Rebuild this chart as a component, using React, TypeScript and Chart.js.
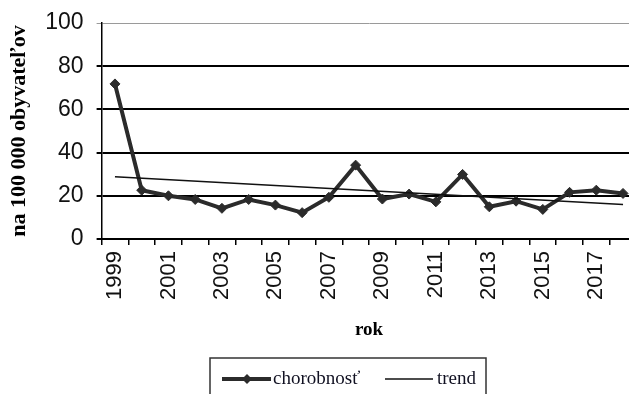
import React, { useEffect, useRef } from "react";
import { Chart, registerables } from "chart.js";

Chart.register(...registerables);

const years = [
  "1999", "2000", "2001", "2002", "2003", "2004", "2005", "2006", "2007", "2008",
  "2009", "2010", "2011", "2012", "2013", "2014", "2015", "2016", "2017", "2018",
];
const chorobnost = [
  71.8, 22.6, 20.0, 18.3, 14.2, 18.3, 15.7, 12.2, 19.3, 34.2,
  18.5, 20.8, 17.2, 29.9, 14.9, 17.5, 13.7, 21.6, 22.6, 21.1,
];
// trend line: read start (1999) and end (2018) values, gaps spanned
const trend = [
  28.8, null, null, null, null, null, null, null, null, null,
  null, null, null, null, null, null, null, null, null, 16.0,
];
const yMin = 0;
const yMax = 100;
const yStep = 20;
const seriesLabel = "chorobnosť";
const trendLabel = "trend";
const xTitle = "rok";
const yTitle = "na 100 000 obyvateľov";

const LINE_COLOR = "#2b2b2b";

const boxLegend = {
  id: "boxLegend",
  afterDraw(chart: any) {
    const ctx = chart.ctx as CanvasRenderingContext2D;
    const left = 210;
    const top = chart.height - 36;
    const width = 276;
    const height = 44;
    const midY = top + 21;
    ctx.save();
    ctx.strokeStyle = "#333";
    ctx.lineWidth = 1.5;
    ctx.strokeRect(left, top, width, height);
    // series marker
    ctx.strokeStyle = LINE_COLOR;
    ctx.lineWidth = 4;
    ctx.beginPath();
    ctx.moveTo(left + 12, midY);
    ctx.lineTo(left + 61, midY);
    ctx.stroke();
    ctx.fillStyle = LINE_COLOR;
    ctx.beginPath();
    const cx = left + 37;
    ctx.moveTo(cx, midY - 5);
    ctx.lineTo(cx + 5, midY);
    ctx.lineTo(cx, midY + 5);
    ctx.lineTo(cx - 5, midY);
    ctx.closePath();
    ctx.fill();
    ctx.font = "19px 'Liberation Serif', 'Times New Roman', serif";
    ctx.fillStyle = "#111122";
    ctx.textBaseline = "middle";
    ctx.textAlign = "left";
    ctx.fillText(seriesLabel, left + 63, midY);
    // trend marker
    ctx.strokeStyle = "#111";
    ctx.lineWidth = 1.3;
    ctx.beginPath();
    ctx.moveTo(left + 175, midY);
    ctx.lineTo(left + 223, midY);
    ctx.stroke();
    ctx.fillText(trendLabel, left + 227, midY);
    ctx.restore();
  },
};

export default function App() {
  const ref = useRef<HTMLCanvasElement | null>(null);

  useEffect(() => {
    if (!ref.current) return;
    const chart = new Chart(ref.current, {
      type: "line",
      data: {
        labels: years,
        datasets: [
          {
            label: seriesLabel,
            data: chorobnost,
            borderColor: LINE_COLOR,
            backgroundColor: LINE_COLOR,
            borderWidth: 4,
            pointStyle: "rectRot",
            pointRadius: 5,
            pointBackgroundColor: LINE_COLOR,
            pointBorderColor: LINE_COLOR,
            pointBorderWidth: 1,
            tension: 0,
            order: 2,
          },
          {
            label: trendLabel,
            data: trend,
            borderColor: "#111",
            borderWidth: 1.4,
            pointRadius: 0,
            spanGaps: true,
            tension: 0,
            order: 1,
          },
        ],
      },
      options: {
        responsive: false,
        animation: false,
        events: [],
        layout: { padding: { left: 0, top: 23, right: 8.6, bottom: 53 } },
        plugins: {
          legend: { display: false },
          tooltip: { enabled: false },
        },
        scales: {
          x: {
            type: "category",
            offset: true,
            grid: {
              offset: true,
              drawOnChartArea: false,
              drawTicks: true,
              tickLength: 6,
              color: "#000",
              lineWidth: 1.5,
            },
            border: { color: "#000", width: 2 },
            ticks: {
              autoSkip: false,
              maxRotation: 90,
              minRotation: 90,
              padding: 6,
              color: "#111",
              font: { family: "'Liberation Sans', Arial, sans-serif", size: 22 },
              callback: (_v: any, i: number) => (i % 2 === 0 ? years[i] : ""),
            },
            title: {
              display: true,
              text: xTitle,
              color: "#000",
              padding: 0,
              font: { family: "'Liberation Serif', 'Times New Roman', serif", size: 19, weight: "bold" },
            },
            afterFit: (s: any) => {
              s.height = 102;
              s.paddingLeft = 0;
              s.paddingRight = 0;
            },
          },
          y: {
            min: yMin,
            max: yMax,
            ticks: {
              stepSize: yStep,
              padding: 13,
              color: "#111",
              font: { family: "'Liberation Sans', Arial, sans-serif", size: 23 },
            },
            grid: {
              color: (c: any) => (c.tick && c.tick.value === yMax ? "#9a9a9a" : "#000"),
              lineWidth: (c: any) => (c.tick && c.tick.value === yMax ? 1 : 2),
              tickLength: 5,
            },
            border: { color: "#000", width: 1.5 },
            title: {
              display: true,
              text: yTitle,
              color: "#000",
              padding: { top: 6, bottom: 0 },
              font: { family: "'Liberation Serif', 'Times New Roman', serif", size: 22, weight: "bold" },
            },
            afterFit: (s: any) => {
              s.width = 101.6;
              s.paddingTop = 0;
              s.paddingBottom = 0;
            },
          },
        },
      } as any,
      plugins: [boxLegend],
    });
    return () => chart.destroy();
  }, []);

  return (
    <div
      style={{
        position: "fixed",
        left: 0,
        top: 0,
        width: 629,
        height: 394,
        overflow: "hidden",
        background: "#fff",
      }}
    >
      <canvas ref={ref} width={645} height={394} style={{ display: "block" }} />
    </div>
  );
}
